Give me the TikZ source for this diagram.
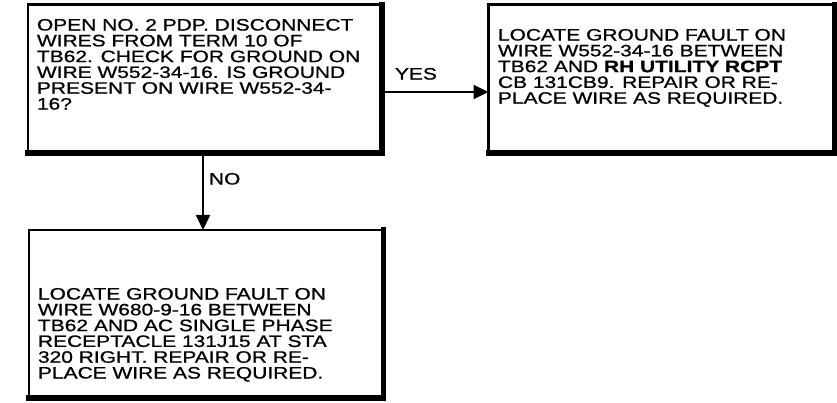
\documentclass[tikz,border=0pt]{standalone}
\usepackage{fontspec}
\newfontfamily\hv[FakeStretch=1.27,FakeBold=0.9]{Liberation Sans}
\usetikzlibrary{arrows.meta}
\begin{document}
\begin{tikzpicture}[x=1pt,y=-1pt,
  boxframe/.style={draw=black,line width=2.5pt,rectangle,inner sep=0pt,outer sep=0pt},
  heavy/.style={line width=5.5pt,line cap=rect},
  txt/.style={anchor=north west,inner sep=0pt,outer sep=0pt,align=left,font=\hv\fontsize{16.5}{15.8}\selectfont},
  lbl/.style={anchor=north west,inner sep=0pt,outer sep=0pt,font=\hv\fontsize{16.5}{15.8}\selectfont},
  conn/.style={line width=2pt,-{Triangle[length=15pt,width=14pt]}}]
\useasboundingbox (0,0) rectangle (837,403);
% boxes
\node[boxframe,minimum width=354pt,minimum height=148.5pt] (b1) at (205,78.75) {};
\node[boxframe,minimum width=346.5pt,minimum height=148.5pt] (b2) at (661.75,78.75) {};
\node[boxframe,minimum width=354.5pt,minimum height=168pt] (b3) at (206.25,314) {};
\draw[heavy] (b1.north east) -- (b1.south east) -- (b1.south west);
\draw[heavy] (b2.north east) -- (b2.south east) -- (b2.south west);
\draw[heavy] (b3.north east) -- (b3.south east) -- (b3.south west);
% texts
\node[txt] (t1) at (37,19) {OPEN NO. 2 PDP. DISCONNECT\\WIRES FROM TERM 10 OF\\TB62. CHECK FOR GROUND ON\\WIRE W552-34-16. IS GROUND\\PRESENT ON WIRE W552-34-\\16?};
\node[txt] (t2) at (498,29) {LOCATE GROUND FAULT ON\\WIRE W552-34-16 BETWEEN\\TB62 AND \textbf{RH UTILITY RCPT}\\CB 131CB9. REPAIR OR RE-\\PLACE WIRE AS REQUIRED.};
\node[txt] (t3) at (38,288) {LOCATE GROUND FAULT ON\\WIRE W680-9-16 BETWEEN\\TB62 AND AC SINGLE PHASE\\RECEPTACLE 131J15 AT STA\\320 RIGHT. REPAIR OR RE-\\PLACE WIRE AS REQUIRED.};
% connectors
\coordinate (yy) at (0,92);
\coordinate (xx) at (203,0);
\draw[conn] (b1.east |- yy) -- (b2.west |- yy);
\draw[conn] (b1.south -| xx) -- (b3.north -| xx);
\node[lbl] (yes) at (395,68) {YES};
\node[lbl] (no) at (209,173) {NO};
\end{tikzpicture}
\end{document}
